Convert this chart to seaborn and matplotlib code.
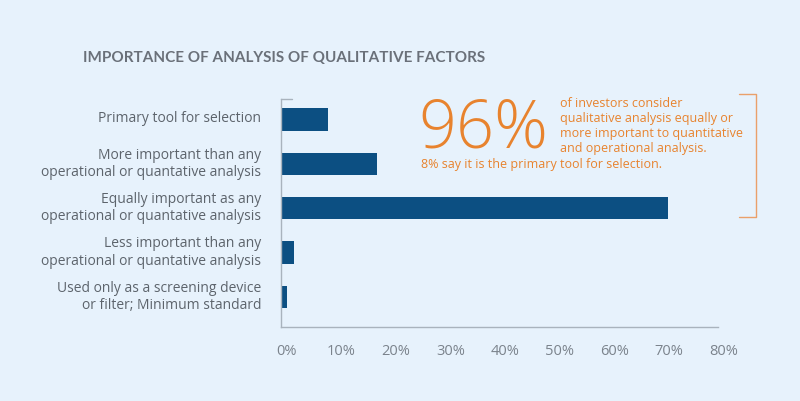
import pandas as pd
import numpy as np
import matplotlib.pyplot as plt
import matplotlib.transforms as mtransforms
import seaborn as sns

categories = [
    "Primary tool for selection",
    "More important than any\noperational or quantative analysis",
    "Equally important as any\noperational or quantative analysis",
    "Less important than any\noperational or quantative analysis",
    "Used only as a screening device\nor filter; Minimum standard",
]
values = [8.7, 17.7, 71.0, 2.5, 1.2]
xticks = [0, 10, 20, 30, 40, 50, 60, 70, 80]
xtick_labels = [f"{t}%" for t in xticks]

title = "IMPORTANCE OF ANALYSIS OF QUALITATIVE FACTORS"
big_number = "96%"
callout = ("of investors consider\nqualitative analysis equally or\n"
           "more important to quantitative\nand operational analysis.")
callout2 = "8% say it is the primary tool for selection."

bg = "#e7f2fc"
bar_color = "#0c4f82"
orange = "#e8832e"
grey_axis = "#a9b3bd"
grey_text = "#5d646c"

sns.set_style("white")
plt.rcParams["font.family"] = ["Open Sans", "DejaVu Sans"]

df = pd.DataFrame({"label": categories, "value": values})

fig = plt.figure(figsize=(8, 4.02), dpi=100, facecolor=bg)
ax = fig.add_axes([0.351, 0.1848, 0.546, 0.5664])
ax.set_facecolor(bg)

sns.barplot(data=df, x="value", y="label", orient="h", color=bar_color,
            saturation=1, width=0.5, linewidth=0, ax=ax)

ax.set_xlim(0, 80)
ax.set_ylim(4.674, -0.462)
ax.set_xlabel("")
ax.set_ylabel("")

for side in ["top", "right"]:
    ax.spines[side].set_visible(False)
for side in ["left", "bottom"]:
    ax.spines[side].set_color(grey_axis)
    ax.spines[side].set_linewidth(1.0)

ax.set_xticks(xticks)
ax.set_xticklabels(xtick_labels, fontsize=10.5, color="#7b838c")
ax.tick_params(axis="x", direction="in", length=7.5, width=1.0,
               color=grey_axis, pad=12)
offset = mtransforms.ScaledTranslation(6 / 100, 0, fig.dpi_scale_trans)
for lab in ax.get_xticklabels():
    lab.set_transform(lab.get_transform() + offset)

ax.tick_params(axis="y", length=0, pad=14)
yoff = mtransforms.ScaledTranslation(0, 4 / 100, fig.dpi_scale_trans)
for lab in ax.get_yticklabels():
    lab.set_fontsize(10)
    lab.set_color(grey_text)
    lab.set_horizontalalignment("right")
    lab.set_transform(lab.get_transform() + yoff)

# small tick at top of y axis
ax.plot([0, 0.025], [1, 1], transform=ax.transAxes, color=grey_axis,
        lw=1.0, clip_on=False)

fig.text(83 / 800, 1 - 58 / 402, title, fontsize=11, fontweight="bold",
         color="#6a7079", family=["Lato", "DejaVu Sans"], va="center")

fig.text(418 / 800, 1 - 147 / 402, big_number, fontsize=48,
         fontweight="light", color=orange, va="baseline", ha="left")
fig.text(560 / 800, 1 - 97 / 402, callout, fontsize=9, color=orange,
         va="top", ha="left", linespacing=1.2)
fig.text(421 / 800, 1 - 165 / 402, callout2, fontsize=9, color=orange,
         va="center", ha="left")

# bracket
bx = [739 / 800, 756 / 800, 756 / 800, 739 / 800]
by = [1 - 95 / 402, 1 - 95 / 402, 1 - 218 / 402, 1 - 218 / 402]
fig.add_artist(plt.Line2D(bx, by, color="#eaa06a", lw=1.0))

fig.savefig("out.png", dpi=100, facecolor=bg)
